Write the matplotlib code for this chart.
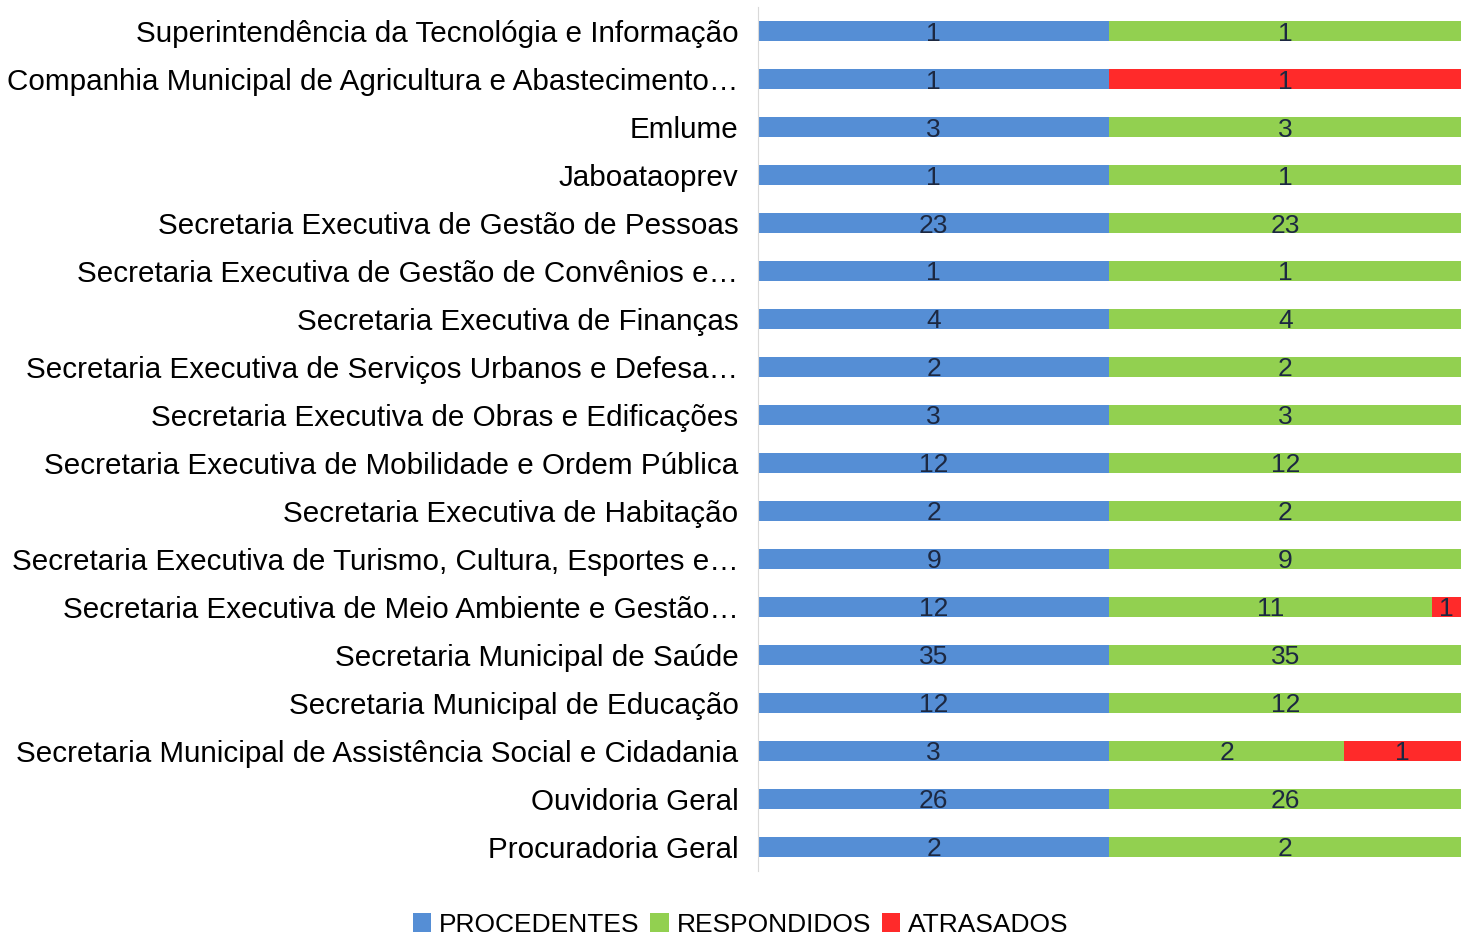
import numpy as np
import matplotlib
matplotlib.use('Agg')
import matplotlib.pyplot as plt

plt.rcParams['font.family'] = ['Liberation Sans', 'DejaVu Sans']

# dados (de cima para baixo)
categorias = [
    'Superintendência da Tecnológia e Informação',
    'Companhia Municipal de Agricultura e Abastecimento…',
    'Emlume',
    'Jaboataoprev',
    'Secretaria Executiva de Gestão de Pessoas',
    'Secretaria Executiva de Gestão de Convênios e…',
    'Secretaria Executiva de Finanças',
    'Secretaria Executiva de Serviços Urbanos e Defesa…',
    'Secretaria Executiva de Obras e Edificações',
    'Secretaria Executiva de Mobilidade e Ordem Pública',
    'Secretaria Executiva de Habitação',
    'Secretaria Executiva de Turismo, Cultura, Esportes e…',
    'Secretaria Executiva de Meio Ambiente e Gestão…',
    'Secretaria Municipal de Saúde',
    'Secretaria Municipal de Educação',
    'Secretaria Municipal de Assistência Social e Cidadania',
    'Ouvidoria Geral',
    'Procuradoria Geral',
]
procedentes = [1, 1, 3, 1, 23, 1, 4, 2, 3, 12, 2, 9, 12, 35, 12, 3, 26, 2]
respondidos = [1, 0, 3, 1, 23, 1, 4, 2, 3, 12, 2, 9, 11, 35, 12, 2, 26, 2]
atrasados = [0, 1, 0, 0, 0, 0, 0, 0, 0, 0, 0, 0, 1, 0, 0, 1, 0, 0]

series = [('PROCEDENTES', procedentes, '#558ED5'),
          ('RESPONDIDOS', respondidos, '#92D050'),
          ('ATRASADOS', atrasados, '#FF2A2A')]

total = np.array(procedentes) + np.array(respondidos) + np.array(atrasados)
y = np.arange(len(categorias))

fig = plt.figure(figsize=(14.61, 9.36), dpi=100)
ax = fig.add_axes([0.5188, 0.0695, 0.4812, 0.923])

left = np.zeros(len(categorias))
for nome, vals, cor in series:
    vals = np.array(vals)
    frac = vals / total
    bars = ax.barh(y, frac, left=left, height=0.42, color=cor, label=nome)
    for b, v in zip(bars, vals):
        if v > 0:
            ax.text(b.get_x() + b.get_width() / 2, b.get_y() + b.get_height() / 2,
                    str(v), ha='center', va='center_baseline', fontsize=19,
                    color='#1C2841')
    left += frac

ax.set_xlim(0, 1)
ax.set_ylim(len(categorias) - 0.5, -0.5)
ax.set_yticks(y)
ax.set_yticklabels(categorias, fontsize=21.3)
ax.tick_params(axis='y', length=0, pad=14)
ax.set_xticks([])
for s in ['top', 'right', 'bottom']:
    ax.spines[s].set_visible(False)
ax.spines['left'].set_color('#D9D9D9')

fig.legend(loc='center', bbox_to_anchor=(0.507, 0.012), ncol=3, frameon=False,
           fontsize=19, handlelength=0.7, handleheight=0.7, handletextpad=0.3,
           columnspacing=0.4)

fig.savefig('out.png', dpi=100)
